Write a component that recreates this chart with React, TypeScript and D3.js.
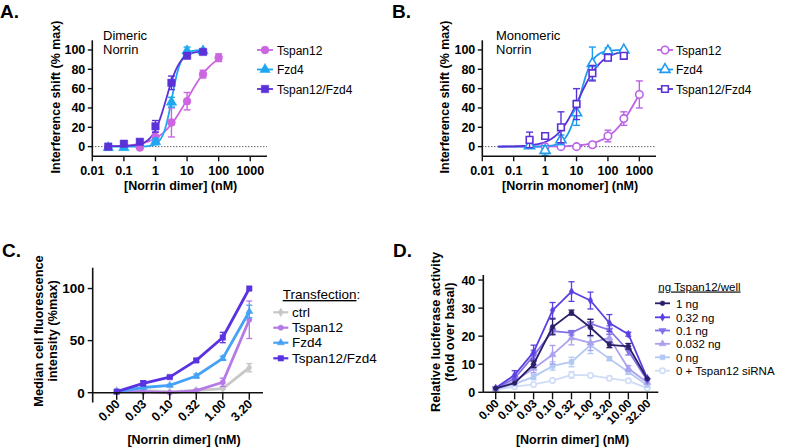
import React from 'react';
import * as d3 from 'd3';

const FONT = 'Arial, "Liberation Sans", Helvetica, sans-serif';

// ---------- Panel A (dimeric Norrin, BLI) ----------
const concA = [0.032, 0.1, 0.32, 1, 3.2, 10, 32, 100];
const aTspan12 = [null, null, -1, 10, 25, 47, 75, 92];
const aTspan12Err = [0, 0, 1, 5, 15, 9, 4, 4];
const aFzd4 = [-1, -1, null, 5, 46, 99, 99, null];
const aFzd4Err = [1, 1, 0, 3, 5, 4, 1, 0];
const aTF = [0, 3, 5, 21, 66, 94, 98, null];
const aTFErr = [1, 1, 2, 6, 7, 2, 1, 0];
// fit parameters: ec50, hill, bottom, top, xmin, xmax
const aTspan12Fit = [10.5, 1, 0, 100, 0.032, 100];
const aFzd4Fit = [3.3, 3, 0, 100, 0.032, 32];
const aTFFit = [2.2, 2, 0.5, 99, 0.032, 32];

// ---------- Panel B (monomeric Norrin, BLI) ----------
const concB = [0.32, 1, 3.2, 10, 32, 100, 320, 1000];
const bTspan12 = [null, 0, 0, 0, 2, 11, 29, 54];
const bTspan12Err = [0, 0.5, 0.5, 0.5, 1, 6, 7, 14];
const bFzd4 = [1, -4, 7, 35, 86, 99, 100, null];
const bFzd4Err = [1, 5, 5, 13, 17, 3, 1, 0];
const bTF = [7, 11, 20, 44, 76, 92, 94, null];
const bTFErr = [8, 2, 16, 16, 8, 3, 2, 0];
const bTspan12Fit = [850, 1, 0, 100, 0.032, 1000];
const bFzd4Fit = [12.5, 2.2, 0, 100, 0.032, 320];
const bTFFit = [12, 1.2, 0, 100, 0.032, 320];

const logTicks = [0.01, 0.1, 1, 10, 100, 1000];
const logTickLabels = ['0.01', '0.1', '1', '10', '100', '1000'];
const bliYTicks = [0, 20, 40, 60, 80, 100];
const bliSeriesNames = ['Tspan12', 'Fzd4', 'Tspan12/Fzd4'];

// ---------- Panel C (cell binding) ----------
const catsC = ['0.00', '0.03', '0.10', '0.32', '1.00', '3.20'];
const cCtrl = [2, 2, 1, 2, 4, 24];
const cCtrlErr = [1, 0.5, 0.5, 0.5, 1, 4];
const cTspan12 = [1, 1, 0, 2, 10, 70];
const cTspan12Err = [0.5, 0.5, 0.5, 1, 4, 18];
const cFzd4 = [1, 5, 7, 16, 33, 78];
const cFzd4Err = [0.5, 1, 1, 2, 2, 6];
const cTspanFzd = [1, 9, 15, 31, 53, 100];
const cTspanFzdErr = [0.5, 2.5, 1, 1.5, 5, 0.5];
const cNames = ['ctrl', 'Tspan12', 'Fzd4', 'Tspan12/Fzd4'];
const cYTicks = [0, 50, 100];

// ---------- Panel D (luciferase) ----------
const catsD = ['0.00', '0.01', '0.03', '0.10', '0.32', '1.00', '3.20', '10.00', '32.00'];
const d1ng = [1.4, 3.3, 10, 23.3, 28.4, 23.1, 16.9, 16.4, 4.8];
const d1ngErr = [0.3, 0.5, 1.2, 2.8, 0.9, 2.9, 1, 1, 0.5];
const d032ng = [1.5, 6.2, 14.3, 29.2, 35.9, 32.7, 24.7, 20.7, 5];
const d032ngErr = [0.3, 1.5, 2.5, 2.8, 3.5, 3, 3, 0.7, 0.5];
const d01ng = [1.3, 5, 13, 21.8, 21.2, 24.5, 22.2, 14.8, 4.2];
const d01ngErr = [0.3, 0.7, 2, 1, 0.8, 1.5, 1.5, 1.5, 0.5];
const d0032ng = [1.2, 4, 8.5, 13.4, 19.4, 17.6, 19.4, 8.5, 3.5];
const d0032ngErr = [0.3, 0.5, 1.5, 3.3, 2.5, 2.7, 1.2, 1, 0.5];
const d0ng = [1, 3, 5.5, 9.4, 10.8, 16.8, 12, 7.2, 2.5];
const d0ngErr = [0.2, 0.5, 1, 1.5, 1.7, 3, 0.7, 0.7, 0.5];
const dSi = [1, 2, 2.8, 4.2, 6.2, 6, 5, 4.1, 1.5];
const dSiErr = [0.2, 0.3, 0.4, 0.5, 1.2, 0.5, 0.3, 0.3, 0.3];
const dNames = ['1 ng', '0.32 ng', '0.1 ng', '0.032 ng', '0 ng', '0 + Tspan12 siRNA'];
const dYTicks = [0, 10, 20, 30, 40];

type Ser = {
  name: string;
  values: (number | null)[];
  err: number[];
  color: string;
  shape: string;
  size: number;
  open?: boolean;
  fit?: number[];
};

function Marker({ x, y, s }: { x: number; y: number; s: Ser }) {
  const t =
    s.shape === 'circle' ? d3.symbolCircle :
    s.shape === 'square' ? d3.symbolSquare :
    s.shape === 'diamond' ? d3.symbolDiamond : d3.symbolTriangle;
  const d = d3.symbol().type(t).size(s.size)() as string;
  const rot = s.shape === 'triangleDown' ? ' rotate(180)' : '';
  return (
    <path
      d={d}
      transform={`translate(${x},${y})${rot}`}
      fill={s.open ? 'white' : s.color}
      stroke={s.color}
      strokeWidth={s.open ? 1.6 : 0.5}
    />
  );
}

function ErrBar({ x, y0, y1, color, cap, w }: { x: number; y0: number; y1: number; color: string; cap: number; w: number }) {
  return (
    <g stroke={color} strokeWidth={w} fill="none">
      <line x1={x} x2={x} y1={y0} y2={y1} />
      <line x1={x - cap} x2={x + cap} y1={y0} y2={y0} />
      <line x1={x - cap} x2={x + cap} y1={y1} y2={y1} />
    </g>
  );
}

function fitCurve(p: number[]) {
  const [ec50, hill, bottom, top, xmin, xmax] = p;
  const n = 120;
  const lmin = Math.log10(xmin), lmax = Math.log10(xmax);
  return d3.range(n + 1).map((i) => {
    const x = Math.pow(10, lmin + ((lmax - lmin) * i) / n);
    const y = bottom + (top - bottom) / (1 + Math.pow(ec50 / x, hill));
    return [x, y] as [number, number];
  });
}

function LogPanel(props: {
  left: number; right: number; top: number; bottom: number;
  conc: number[]; series: Ser[]; xTitle: string; inset: string[]; insetX: number;
  legendMarkX: number; legendTextX: number; yLabelX: number; letter: string; letterX: number;
}) {
  const { left, right, top, bottom, conc, series } = props;
  const x = d3.scaleLog().domain([0.01, Math.pow(10, 3.53)]).range([left, right]);
  const y = d3.scaleLinear().domain([-10, 110]).range([bottom, top]);
  const line = d3.line<[number, number]>().x((d) => x(d[0])).y((d) => y(d[1]));
  const legendRows = [50, 69.5, 89];
  return (
    <g fontFamily={FONT}>
      <text x={props.letterX} y={17.5} fontSize={19} fontWeight="bold">{props.letter}</text>
      <line x1={left} x2={right} y1={y(0)} y2={y(0)} stroke="#222" strokeWidth={1} strokeDasharray="1,2" />
      {series.map((s, i) => (
        <path key={'c' + i} d={line(fitCurve(s.fit!)) as string} fill="none" stroke={s.color} strokeWidth={1.8} />
      ))}
      {series.map((s, i) => (
        <g key={'s' + i}>
          {conc.map((c, j) => {
            const v = s.values[j];
            if (v === null || v === undefined) return null;
            const e = s.err[j];
            return e > 0.8 ? (
              <ErrBar key={j} x={x(c)} y0={y(v - e)} y1={y(v + e)} color={s.color} cap={3.5} w={1.4} />
            ) : null;
          })}
          {conc.map((c, j) => {
            const v = s.values[j];
            if (v === null || v === undefined) return null;
            return <Marker key={'m' + j} x={x(c)} y={y(v)} s={s} />;
          })}
        </g>
      ))}
      <line x1={left} x2={left} y1={top} y2={bottom} stroke="#111" strokeWidth={1.6} />
      <line x1={left} x2={right} y1={bottom} y2={bottom} stroke="#111" strokeWidth={1.6} />
      {bliYTicks.map((t) => (
        <g key={t}>
          <line x1={left - 4.5} x2={left} y1={y(t)} y2={y(t)} stroke="#111" strokeWidth={1.4} />
          <text x={left - 7} y={y(t) + 4.5} textAnchor="end" fontSize={12.5} fontWeight="bold">{t}</text>
        </g>
      ))}
      {logTicks.map((t, i) => (
        <g key={t}>
          <line x1={x(t)} x2={x(t)} y1={bottom} y2={bottom + 5} stroke="#111" strokeWidth={1.4} />
          <text x={x(t)} y={bottom + 19} textAnchor="middle" fontSize={12.5} fontWeight="bold">{logTickLabels[i]}</text>
        </g>
      ))}
      <text x={(left + right) / 2 + 1} y={189.5} textAnchor="middle" fontSize={12.5} fontWeight="bold">{props.xTitle}</text>
      <text transform={`translate(${props.yLabelX},97) rotate(-90)`} textAnchor="middle" fontSize={12.5} fontWeight="bold">
        Interference shift (% max)
      </text>
      <text x={props.insetX} y={40} fontSize={13}>{props.inset[0]}</text>
      <text x={props.insetX} y={54} fontSize={13}>{props.inset[1]}</text>
      {series.map((s, i) => (
        <g key={'l' + i}>
          <line x1={props.legendMarkX - 8} x2={props.legendMarkX + 8} y1={legendRows[i]} y2={legendRows[i]} stroke={s.color} strokeWidth={1.8} />
          <Marker x={props.legendMarkX} y={legendRows[i]} s={s} />
          <text x={props.legendTextX} y={legendRows[i] + 4.5} fontSize={12}>{s.name}</text>
        </g>
      ))}
    </g>
  );
}

function CatPanel(props: {
  left: number; right: number; top: number; bottom: number; firstX: number; lastX: number;
  cats: string[]; series: Ser[]; yMin: number; yMax: number; yTicks: number[];
  tickFont: number; catFont: number; lineW: number;
  yLines: string[]; yLineX: number[]; yCenter: number; xTitleX: number;
  legendTitle: React.ReactNode; legendTitleX: number; legendTitleY: number; legendRows: number[]; legendMarkX0: number; legendMarkX1: number;
  legendTextX: number; legendFont: number; letter: string; letterX: number; legendOrder: number[]; axisBottom: number;
}) {
  const { left, right, top, bottom, series } = props;
  const x = d3.scalePoint<string>().domain(props.cats).range([props.firstX, props.lastX]);
  const y = d3.scaleLinear().domain([props.yMin, props.yMax]).range([bottom, top]);
  const line = d3.line<[string, number]>().x((d) => x(d[0]) as number).y((d) => y(d[1]));
  const y0 = y(0);
  return (
    <g fontFamily={FONT}>
      <text x={props.letterX} y={257} fontSize={19} fontWeight="bold">{props.letter}</text>
      {series.map((s, i) => (
        <g key={i}>
          <path
            d={line(props.cats.map((c, j) => [c, s.values[j] as number])) as string}
            fill="none" stroke={s.color} strokeWidth={props.lineW} strokeLinejoin="round"
          />
          {props.cats.map((c, j) => {
            const v = s.values[j] as number;
            const e = s.err[j];
            return e > 0.6 ? (
              <ErrBar key={'e' + j} x={x(c) as number} y0={y(v - e)} y1={y(v + e)} color={s.color} cap={3} w={1.3} />
            ) : null;
          })}
          {props.cats.map((c, j) => (
            <Marker key={'m' + j} x={x(c) as number} y={y(s.values[j] as number)} s={s} />
          ))}
        </g>
      ))}
      <line x1={left} x2={left} y1={top} y2={props.axisBottom} stroke="#111" strokeWidth={1.6} />
      <line x1={left} x2={right} y1={y0} y2={y0} stroke="#111" strokeWidth={1.6} />
      {props.yTicks.map((t) => (
        <g key={t}>
          <line x1={left - 5} x2={left} y1={y(t)} y2={y(t)} stroke="#111" strokeWidth={1.4} />
          <text x={left - 8} y={y(t) + 4.8} textAnchor="end" fontSize={props.tickFont} fontWeight="bold">{t}</text>
        </g>
      ))}
      {props.cats.map((c) => (
        <g key={c}>
          <line x1={x(c) as number} x2={x(c) as number} y1={y0} y2={y0 + 7} stroke="#111" strokeWidth={1.4} />
          <text
            transform={`translate(${(x(c) as number) + 4},${y0 + 12}) rotate(-45)`}
            textAnchor="end" fontSize={props.catFont} fontWeight="bold"
          >{c}</text>
        </g>
      ))}
      <text x={props.xTitleX} y={443.5} textAnchor="middle" fontSize={12.5} fontWeight="bold">[Norrin dimer] (nM)</text>
      {props.yLines.map((t, i) => (
        <text key={i} transform={`translate(${props.yLineX[i]},${props.yCenter}) rotate(-90)`} textAnchor="middle" fontSize={12.8} fontWeight="bold">{t}</text>
      ))}
      <text x={props.legendTitleX} y={props.legendTitleY} fontSize={props.legendFont}>{props.legendTitle}</text>
      {props.legendOrder.map((si, r) => {
        const s = series[si];
        const ly = props.legendRows[r];
        const mx = (props.legendMarkX0 + props.legendMarkX1) / 2;
        return (
          <g key={'l' + r}>
            <line x1={props.legendMarkX0} x2={props.legendMarkX1} y1={ly} y2={ly} stroke={s.color} strokeWidth={Math.min(props.lineW, 2.2)} />
            <Marker x={mx} y={ly} s={s} />
            <text x={props.legendTextX} y={ly + 4.5} fontSize={props.legendFont}>{s.name}</text>
          </g>
        );
      })}
    </g>
  );
}

export default function App() {
  const colTspan = '#cc66e0';
  const colFzd = '#1ea8f2';
  const colTF = '#5b32d8';
  const aSeries: Ser[] = [
    { name: bliSeriesNames[0], values: aTspan12, err: aTspan12Err, color: colTspan, shape: 'circle', size: 48, fit: aTspan12Fit },
    { name: bliSeriesNames[1], values: aFzd4, err: aFzd4Err, color: colFzd, shape: 'triangle', size: 48, fit: aFzd4Fit },
    { name: bliSeriesNames[2], values: aTF, err: aTFErr, color: colTF, shape: 'square', size: 56, fit: aTFFit },
  ];
  const bSeries: Ser[] = [
    { name: bliSeriesNames[0], values: bTspan12, err: bTspan12Err, color: '#bb62e6', shape: 'circle', size: 44, open: true, fit: bTspan12Fit },
    { name: bliSeriesNames[1], values: bFzd4, err: bFzd4Err, color: '#1f9cf0', shape: 'triangle', size: 44, open: true, fit: bFzd4Fit },
    { name: bliSeriesNames[2], values: bTF, err: bTFErr, color: colTF, shape: 'square', size: 44, open: true, fit: bTFFit },
  ];
  const cSeries: Ser[] = [
    { name: cNames[0], values: cCtrl, err: cCtrlErr, color: '#c8c8c8', shape: 'diamond', size: 22 },
    { name: cNames[1], values: cTspan12, err: cTspan12Err, color: '#b57ae6', shape: 'circle', size: 22 },
    { name: cNames[2], values: cFzd4, err: cFzd4Err, color: '#45a2f5', shape: 'triangle', size: 22 },
    { name: cNames[3], values: cTspanFzd, err: cTspanFzdErr, color: '#5a33e0', shape: 'square', size: 30 },
  ];
  const dSeries: Ser[] = [
    { name: dNames[5], values: dSi, err: dSiErr, color: '#cfdcf8', shape: 'circle', size: 22, open: true },
    { name: dNames[4], values: d0ng, err: d0ngErr, color: '#b3c8f4', shape: 'square', size: 24 },
    { name: dNames[3], values: d0032ng, err: d0032ngErr, color: '#aaa2ee', shape: 'triangle', size: 22 },
    { name: dNames[2], values: d01ng, err: d01ngErr, color: '#8272e6', shape: 'triangleDown', size: 22 },
    { name: dNames[1], values: d032ng, err: d032ngErr, color: '#5b3fe2', shape: 'diamond', size: 18 },
    { name: dNames[0], values: d1ng, err: d1ngErr, color: '#2a1e66', shape: 'circle', size: 18 },
  ];
  return (
    <svg width={788} height={447} style={{ position: 'absolute', left: 0, top: 0, background: 'white' }}>
      <rect width={788} height={447} fill="white" />
      <LogPanel
        left={92.3} right={267} top={40.3} bottom={156.3} conc={concA} series={aSeries}
        xTitle="[Norrin dimer] (nM)" inset={['Dimeric', 'Norrin']} insetX={103}
        legendMarkX={265} legendTextX={277} yLabelX={59.5} letter="A." letterX={0}
      />
      <LogPanel
        left={482.3} right={656} top={40.3} bottom={156.3} conc={concB} series={bSeries}
        xTitle="[Norrin monomer] (nM)" inset={['Monomeric', 'Norrin']} insetX={496}
        legendMarkX={665} legendTextX={676} yLabelX={449} letter="B." letterX={392}
      />
      <CatPanel
        left={92.7} right={263} top={267.7} bottom={392.7} firstX={116.7} lastX={249.3}
        cats={catsC} series={cSeries} yMin={0} yMax={120} yTicks={cYTicks} axisBottom={402.5}
        tickFont={13.5} catFont={12.5} lineW={2.8}
        yLines={['Median cell fluorescence', 'intensity (%max)']} yLineX={[42.5, 56.5]} yCenter={331} xTitleX={184}
        legendTitle={<><tspan textDecoration="underline">Transfection</tspan>:</>} legendTitleX={282.7} legendTitleY={299}
        legendRows={[312.3, 327.7, 342.7, 358.3]} legendMarkX0={273.3} legendMarkX1={288.3}
        legendTextX={292} legendFont={13.5} letter="C." letterX={2} legendOrder={[0, 1, 2, 3]}
      />
      <CatPanel
        left={483.3} right={658.3} top={275} bottom={392.3} firstX={495.7} lastX={647.3}
        cats={catsD} series={dSeries} yMin={0} yMax={41.8} yTicks={dYTicks} axisBottom={392.3}
        tickFont={12.5} catFont={11.8} lineW={1.8}
        yLines={['Relative luciferase activity', '(fold over basal)']} yLineX={[439.5, 454]} yCenter={332} xTitleX={572.5}
        legendTitle={<tspan textDecoration="underline">ng Tspan12/well</tspan>} legendTitleX={658.3} legendTitleY={290.5}
        legendRows={[303.3, 317.3, 330.5, 343.8, 357.3, 370.7]} legendMarkX0={655} legendMarkX1={670}
        legendTextX={676} legendFont={11.5} letter="D." letterX={393} legendOrder={[5, 4, 3, 2, 1, 0]}
      />
    </svg>
  );
}
